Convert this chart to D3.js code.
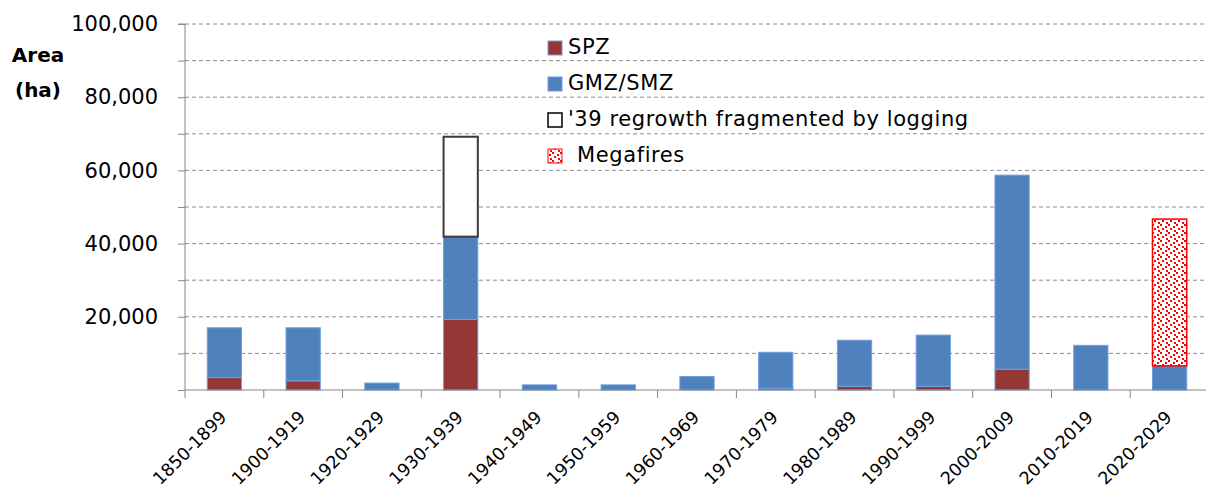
<!DOCTYPE html>
<html><head><meta charset="utf-8">
<script src="https://cdn.jsdelivr.net/npm/d3@7"></script>
<style>
html,body{margin:0;padding:0;background:#fff;}
svg{display:block;font-family:"DejaVu Sans",sans-serif;}
</style></head>
<body><svg id="chart" width="1206" height="493"></svg>
<script>
const categories = ["1850-1899","1900-1919","1920-1929","1930-1939","1940-1949","1950-1959","1960-1969","1970-1979","1980-1989","1990-1999","2000-2009","2010-2019","2020-2029"];
const spz       = [3400, 2500, 0, 19300, 0, 0, 0, 500, 1000, 1000, 5700, 0, 0];
const gmzSmz    = [13600, 14500, 1900, 22600, 1400, 1400, 3700, 9800, 12600, 14000, 53000, 12200, 6600];
const regrowth  = [0, 0, 0, 27300, 0, 0, 0, 0, 0, 0, 0, 0, 0];
const megafires = [0, 0, 0, 0, 0, 0, 0, 0, 0, 0, 0, 0, 40100];
const yTickLabels = [20000, 40000, 60000, 80000, 100000];
const yGrid = [10000, 20000, 30000, 40000, 50000, 60000, 70000, 80000, 90000, 100000];
const seriesKeys = ["SPZ", "GMZ/SMZ", "'39 regrowth fragmented by logging", "Megafires"];

const svg = d3.select("#chart");
const defs = svg.append("defs");
const pat = defs.append("pattern").attr("id","confetti").attr("patternUnits","userSpaceOnUse")
  .attr("width",8).attr("height",8);
pat.append("rect").attr("width",8).attr("height",8).attr("fill","#fff");
[[0,0],[5,2],[2,4],[6,6]].forEach(([a,b])=>pat.append("rect").attr("x",a).attr("y",b).attr("width",2).attr("height",2).attr("fill","#f00"));

const x0 = 185, x1 = 1209, yTop = 24, yBot = 390;
const x = d3.scaleBand().domain(categories).range([x0, x1]).padding(0);
const y = d3.scaleLinear().domain([0, 100000]).range([yBot, yTop]);

// gridlines
svg.append("g").selectAll("line").data(yGrid).join("line")
  .attr("x1", x0).attr("x2", 1206).attr("y1", d=>y(d)).attr("y2", d=>y(d))
  .attr("stroke","#8c8c8c").attr("stroke-width",1).attr("stroke-dasharray","4,3");

// data table
const table = categories.map((c,i)=>({cat:c, "SPZ":spz[i], "GMZ/SMZ":gmzSmz[i], "'39 regrowth fragmented by logging":regrowth[i], "Megafires":megafires[i]}));
const stacked = d3.stack().keys(seriesKeys)(table);
const fills = {"SPZ":"#953735","GMZ/SMZ":"#4F81BD","'39 regrowth fragmented by logging":"#ffffff","Megafires":"url(#confetti)"};
const strokes = {"SPZ":"#6f9fdc","GMZ/SMZ":"#6f9fdc","'39 regrowth fragmented by logging":"#3a3a3a","Megafires":"#ff0000"};
const sw = {"SPZ":1,"GMZ/SMZ":1,"'39 regrowth fragmented by logging":2,"Megafires":1.5};
const bw = x.bandwidth()/2.3;

stacked.forEach(s=>{
  svg.append("g").selectAll("rect").data(s.filter(d=>d[1]-d[0]>0)).join("rect")
    .attr("x", d=>x(d.data.cat)+x.bandwidth()/2-bw/2)
    .attr("width", bw)
    .attr("y", d=>y(d[1]))
    .attr("height", d=>y(d[0])-y(d[1]))
    .attr("fill", fills[s.key]).attr("stroke", strokes[s.key]).attr("stroke-width", sw[s.key]);
});

// y axis
const yAxis = d3.axisLeft(y).tickValues(yGrid.concat([0])).tickSize(7)
  .tickFormat(d=> yTickLabels.includes(d) ? d3.format(",")(d) : "");
const gy = svg.append("g").attr("transform",`translate(${x0},0)`).call(yAxis);
gy.select(".domain").attr("stroke","#868686").attr("d",`M-7,${yTop}H0V${yBot}`);
gy.selectAll(".tick line").attr("stroke","#868686");
gy.selectAll(".tick text").attr("x",-27).attr("fill","#000").style("font-size","21px").style("font-family","DejaVu Sans");

// x axis
const gx = svg.append("g").attr("transform",`translate(0,${yBot})`);
gx.append("line").attr("x1",x0).attr("x2",1206).attr("y1",0).attr("y2",0).attr("stroke","#868686");
const bounds = categories.map(c=>x(c)).concat([x(categories[categories.length-1])+x.bandwidth()]);
gx.selectAll("line.tk").data(bounds).join("line").attr("class","tk")
  .attr("x1",d=>d).attr("x2",d=>d).attr("y1",0).attr("y2",8).attr("stroke","#868686");
gx.selectAll("text").data(categories).join("text")
  .attr("transform", d=>`translate(${x(d)+x.bandwidth()/2-1},${24}) rotate(-45)`)
  .attr("text-anchor","end").attr("dy","0.35em")
  .style("font-size","17.5px").attr("fill","#000").text(d=>d);

// y title
const t = svg.append("text").attr("text-anchor","middle").style("font-weight","bold").style("font-size","20px");
t.append("tspan").attr("x",38).attr("y",62).text("Area");
t.append("tspan").attr("x",38).attr("y",97).text("(ha)");

// legend
const lg = svg.append("g");
seriesKeys.forEach((k,i)=>{
  const yy = 41 + i*36;
  const isReg = k==="'39 regrowth fragmented by logging", isMega = k==="Megafires";
  lg.append("rect").attr("x",548).attr("y",yy).attr("width",14).attr("height",14)
    .attr("fill", fills[k]).attr("stroke", isReg ? "#000" : (isMega ? "#ff0000" : "#6f9fdc")).attr("stroke-width", isReg ? 1.5 : 1);
  lg.append("text").attr("x", isMega ? 577 : 568).attr("y", yy+13)
    .style("font-size","21px").style("letter-spacing","0.6px").attr("fill","#000").text(k);
});
</script></body></html>
